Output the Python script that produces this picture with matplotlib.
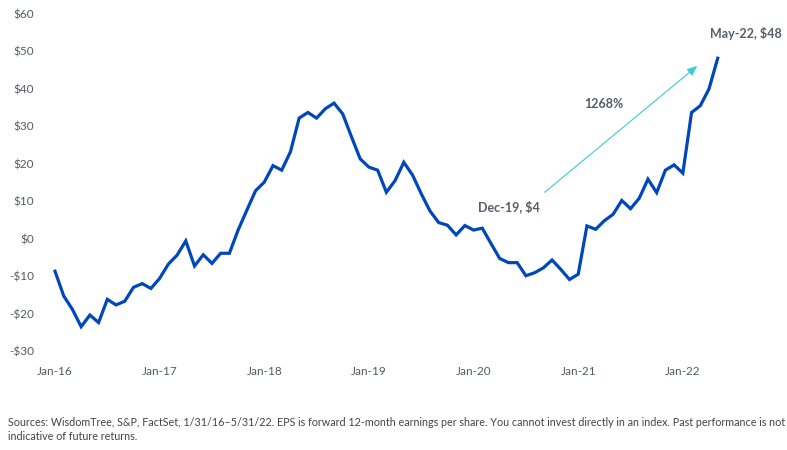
import matplotlib
matplotlib.use("Agg")
import matplotlib.pyplot as plt

plt.rcParams['font.family'] = ['Lato', 'DejaVu Sans']

tick_labels = ["Jan-16", "Jan-17", "Jan-18", "Jan-19", "Jan-20", "Jan-21", "Jan-22"]
tick_positions = [0, 12, 24, 36, 48, 60, 72]  # month index since Jan-16
y_ticks = [-30, -20, -10, 0, 10, 20, 30, 40, 50, 60]

eps_change = [
    -8.7, -15.3, -18.9, -23.5, -20.4, -22.4, -16.2, -17.7, -16.7, -13.0, -12.0, -13.3,
    -10.6, -6.8, -4.4, -0.6, -7.3, -4.3, -6.6, -3.9, -3.9, 2.3, 7.6, 12.8,
    15.1, 19.5, 18.3, 23.2, 32.2, 33.7, 32.2, 34.7, 36.2, 33.3, 27.2, 21.3,
    19.1, 18.3, 12.4, 15.5, 20.4, 17.0, 12.0, 7.4, 4.3, 3.6, 1.0, 3.5,
    2.3, 2.8, -1.3, -5.3, -6.4, -6.4, -9.9, -9.1, -7.8, -5.7, -8.2, -10.9,
    -9.5, 3.4, 2.5, 4.8, 6.5, 10.2, 8.0, 10.8, 15.9, 12.3, 18.3, 19.7,
    17.5, 33.7, 35.5, 40.0, 48.2,
]
months = list(range(len(eps_change)))

fig = plt.figure(figsize=(7.87, 4.5), dpi=100)
W, H = 787, 450
ax = fig.add_axes([45 / W, 1 - 351 / H, (740 - 45) / W, (351 - 14) / H])

ax.plot(months, eps_change, color="#0047bb", lw=2.3, solid_joinstyle="miter")

ax.set_ylim(-30, 60)
ax.set_xlim((45 - 55) / 8.72, (740 - 55) / 8.72)
ax.set_yticks(y_ticks)
ax.set_yticklabels([f"-${-v}" if v < 0 else f"${v}" for v in y_ticks])
ax.set_xticks(tick_positions)
ax.set_xticklabels(tick_labels)
for s in ax.spines.values():
    s.set_visible(False)
ax.tick_params(axis="both", length=0, labelsize=8.5, labelcolor="#555b63")
ax.tick_params(axis="x", pad=11)
ax.tick_params(axis="y", pad=8)

txt_col = "#555e69"
ax.annotate("", xy=(73.9, 46.6), xytext=(55.9, 11.9),
            arrowprops=dict(arrowstyle="-|>,head_length=0.6,head_width=0.25",
                            color="#3ccbd6", lw=0.8))
ax.text(52.1, 8.45, "Dec-19, $4", ha="center", va="center", fontsize=9,
        fontweight="bold", color=txt_col)
ax.text(62.9, 36.0, "1268%", ha="center", va="center", fontsize=9,
        fontweight="bold", color=txt_col)
ax.text(79.2, 54.7, "May-22, $48", ha="center", va="center", fontsize=9,
        fontweight="bold", color=txt_col, clip_on=False)

fig.text(8 / W, 1 - 422 / H,
         "Sources: WisdomTree, S&P, FactSet, 1/31/16\u20135/31/22. EPS is forward 12-month earnings per share. "
         "You cannot invest directly in an index. Past performance is not",
         ha="left", va="center", fontsize=7.75, color="#444444")
fig.text(8 / W, 1 - 437 / H, "indicative of future returns.",
         ha="left", va="center", fontsize=7.75, color="#444444")

fig.savefig("out.png", dpi=100)
